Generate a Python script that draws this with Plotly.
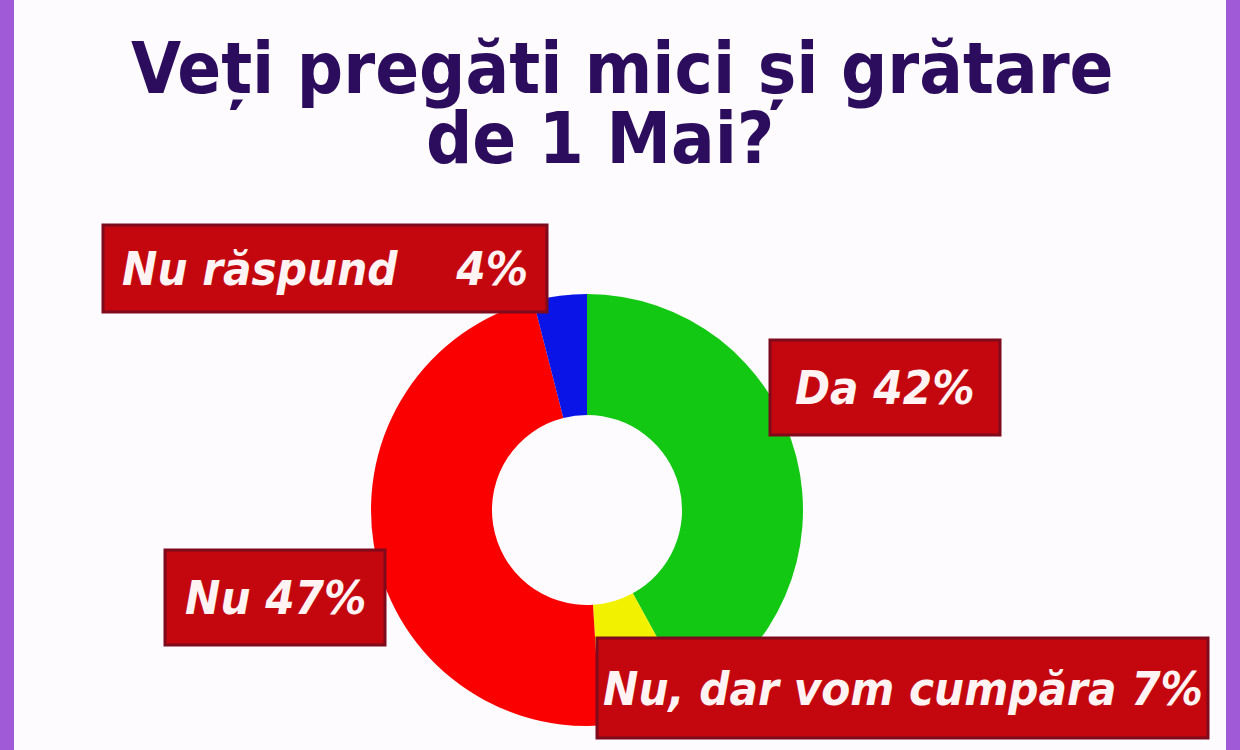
import plotly.graph_objects as go

labels = ["Da", "Nu, dar vom cumpăra", "Nu", "Nu răspund"]
values = [42, 7, 47, 4]
colors = ["#12c812", "#f2f200", "#fb0000", "#0a14e6"]
label_texts = ["Da 42%", "Nu, dar vom cumpăra 7%", "Nu 47%", "Nu răspund&nbsp;&nbsp;&nbsp;&nbsp;4%"]
title_lines = ["Veți pregăti mici și grătare", "de 1 Mai?"]

W, H = 1240, 750
cx, cy, r = 587, 510, 216

fig = go.Figure()
fig.add_trace(go.Pie(
    labels=labels, values=values, sort=False, direction="clockwise", rotation=0,
    hole=0.44, marker=dict(colors=colors, line=dict(width=0)),
    textinfo="none", hoverinfo="label+percent", showlegend=False,
    domain=dict(x=[(cx - r) / W, (cx + r) / W], y=[(H - cy - r) / H, (H - cy + r) / H]),
))

# boxes: (x0, y0, x1, y1) in pixels from top-left, per label
boxes = {
    "Da": (770, 340, 1000, 435),
    "Nu, dar vom cumpăra": (597, 638, 1208, 738),
    "Nu": (165, 550, 385, 645),
    "Nu răspund": (103, 225, 547, 312),
}

def px(x):
    return x / W

def py(y):
    return 1 - y / H

font_family = "DejaVu Sans Condensed, Open Sans, sans-serif"
for lab, txt in zip(labels, label_texts):
    x0, y0, x1, y1 = boxes[lab]
    fig.add_shape(type="rect", xref="paper", yref="paper",
                  x0=px(x0), x1=px(x1), y0=py(y1), y1=py(y0),
                  fillcolor="#c4070e", line=dict(color="#7e0a1c", width=3), layer="above")
    fig.add_annotation(xref="paper", yref="paper", x=px((x0 + x1) / 2), y=py((y0 + y1) / 2),
                       text=txt, showarrow=False, xanchor="center", yanchor="middle",
                       font=dict(family=font_family, size=47, color="#fff3f3",
                                 style="italic", weight="bold"))

title_pos = [(622, 68), (600, 138)]
for line, (tx, ty) in zip(title_lines, title_pos):
    fig.add_annotation(xref="paper", yref="paper", x=px(tx), y=py(ty),
                       text=line, showarrow=False, xanchor="center", yanchor="middle",
                       font=dict(family=font_family, size=72, color="#2c0c5c", weight="bold"))

# purple side frames
fig.add_shape(type="rect", xref="paper", yref="paper", x0=0, x1=px(14), y0=0, y1=1,
              fillcolor="#a05ad8", line=dict(width=0), layer="below")
fig.add_shape(type="rect", xref="paper", yref="paper", x0=px(1226), x1=1, y0=0, y1=1,
              fillcolor="#a05ad8", line=dict(width=0), layer="below")

fig.update_layout(width=W, height=H, margin=dict(l=0, r=0, t=0, b=0),
                  paper_bgcolor="#fdfbfe", plot_bgcolor="#fdfbfe")
fig.write_html("out.html", config={"displayModeBar": False},
               post_script="document.body.style.margin='0';document.body.style.overflow='hidden';")
